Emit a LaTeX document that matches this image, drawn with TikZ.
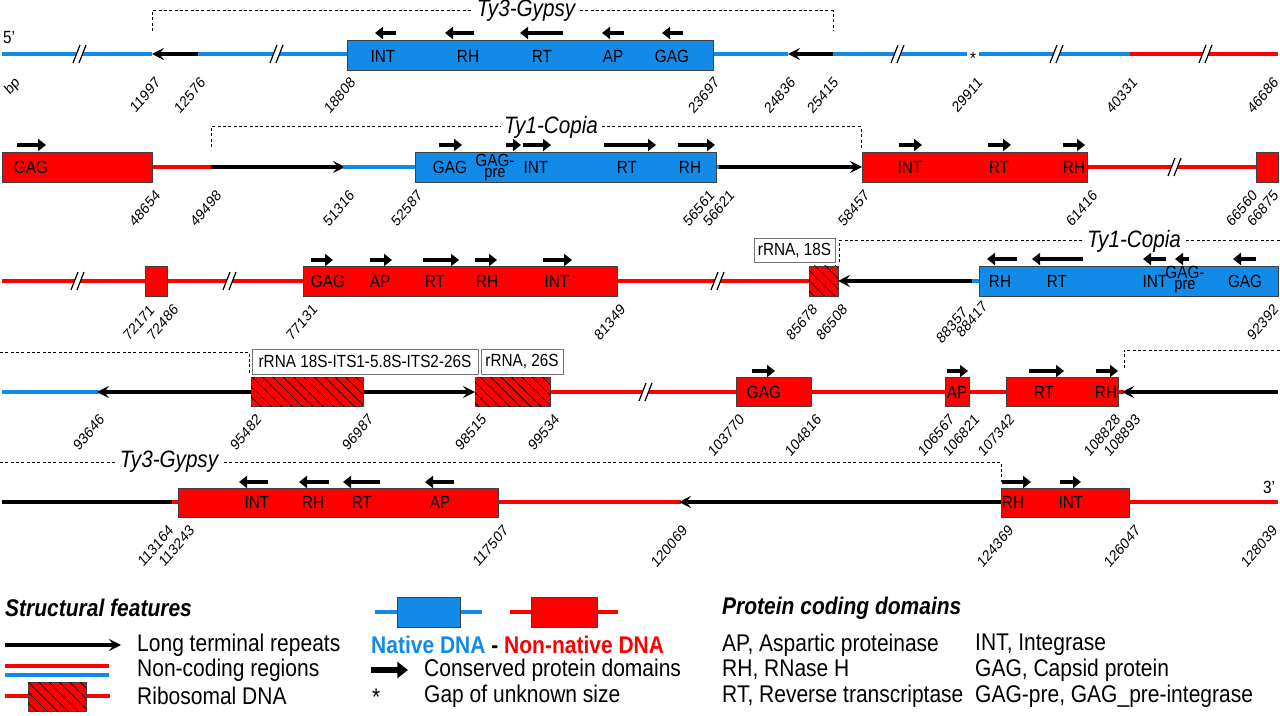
\documentclass[tikz,border=0pt]{standalone}
\usepackage{fontspec}
\setmainfont{Liberation Sans}
\usetikzlibrary{arrows.meta,patterns.meta}
\definecolor{nblue}{RGB}{18,138,232}
\definecolor{nred}{RGB}{255,0,0}
\tikzset{
  bl/.style={nblue,line width=3pt},
  rl/.style={nred,line width=3pt},
  kl/.style={black,line width=3.6pt},
  ltr/.style={black,line width=3.6pt,-{Stealth[length=9pt,width=9pt,inset=3.5pt]}},
  pd/.style={black,line width=3.6pt,-{Triangle[length=6pt,width=9pt]}},
  pdbig/.style={black,line width=5pt,-{Triangle[length=8pt,width=12pt]}},
  bbox/.style={fill=nblue,draw=black!75,line width=0.6pt},
  rbox/.style={fill=nred,draw=black!75,line width=0.6pt},
  hbox/.style={rbox,postaction={pattern={Lines[angle=-45,distance=5.5pt,line width=0.5pt]},pattern color=black}},
  blab/.style={font=\fontsize{13.2}{14}\selectfont,inner sep=0,xscale=0.87},
  plab/.style={font=\fontsize{11.5}{12}\selectfont,xscale=0.87,rotate=45,anchor=east,inner sep=0},
  dsh/.style={black,line width=0.75pt,dash pattern=on 2.2pt off 1.8pt},
  tlab/.style={font=\fontsize{17.8}{19}\selectfont\itshape,fill=white,inner xsep=3pt,inner ysep=1pt,xscale=0.87},
  rframe/.style={draw=black!55,fill=white,line width=0.6pt},
  leg/.style={font=\fontsize{18.1}{19}\selectfont,anchor=west,inner sep=0,xscale=0.87},
}
\newcommand{\brk}[2]{%
  \fill[white] (#1-7,#2+9) -- (#1,#2-9) -- (#1+6,#2-9) -- (#1-1,#2+9) -- cycle;
  \draw[black,line width=0.9pt] (#1-7,#2+9) -- (#1,#2-9);
  \draw[black,line width=0.9pt] (#1-1,#2+9) -- (#1+6,#2-9);}
\newcommand{\pl}[3]{\node[plab] (p#3) at (#1,#2) {#3};}
\newcommand{\bx}[4]{\node[blab] (#1) at (#2,#3) {#4};}
\newcommand{\gp}[3]{%
  \node[blab,anchor=base] (#1a) at (#2,#3-0.5) {GAG-};
  \node[blab,anchor=base,font=\fontsize{12.6}{13}\selectfont] (#1b) at (#2,#3+10.5) {pre};}
\begin{document}
\begin{tikzpicture}[x=0.75pt,y=-0.75pt]
\useasboundingbox (0,0) rectangle (1280,716);

% ================= Row 1 =================
\draw[bl] (2,54) -- (152,54);
\draw[bl] (198,54) -- (347,54);
\draw[ltr] (198,54) -- (152,54);
\draw[bl] (713,54) -- (788,54);
\draw[bl] (833,54) -- (967,54);
\draw[ltr] (833,54) -- (788,54);
\draw[bl] (979,54) -- (1130,54);
\draw[rl] (1130,54) -- (1278,54);
\brk{80}{54}\brk{277}{54}\brk{898}{54}\brk{1057}{54}\brk{1206}{54}
\node[blab] (s1) at (973,58) {*};
\draw[bbox] (347,40) rectangle (713,70);
\bx{a1}{383}{56}{INT}\bx{a2}{468}{56}{RH}\bx{a3}{542}{56}{RT}\bx{a4}{613}{56}{AP}\bx{a5}{672}{56}{GAG}
\draw[pd] (396,33) -- (375,33);
\draw[pd] (474,33) -- (445,33);
\draw[pd] (563,33) -- (520,33);
\draw[pd] (624,33) -- (602,33);
\draw[pd] (683,33) -- (662,33);
\draw[dsh] (152,31) -- (152,11) -- (833,11) -- (833,31);
\node[tlab] (t1) at (526,11) {Ty3-Gypsy};
\node[blab,anchor=west] (five) at (3,38) {5'};
\node[plab] (pbp) at (18,80) {bp};
\pl{158}{80}{11997}\pl{203}{80}{12576}\pl{353}{80}{18808}\pl{717}{80}{23697}
\pl{793}{80}{24836}\pl{836}{80}{25415}\pl{980}{80}{29911}\pl{1135}{80}{40331}\pl{1276}{80}{46686}

% ================= Row 2 =================
\draw[rl] (152,167) -- (211,167);
\draw[ltr] (211,167) -- (345,167);
\draw[bl] (343,167) -- (415,167);
\draw[bl] (716,167) -- (722,167);
\draw[ltr] (719,167) -- (862,167);
\draw[rl] (1087,167) -- (1256,167);
\brk{1175}{167}
\draw[rbox] (2,152) rectangle (152,182);
\bx{b0}{31}{167}{GAG}
\draw[pd] (17,145) -- (46,145);
\draw[bbox] (415,152) rectangle (716,182);
\bx{b1}{450}{167}{GAG}\gp{b2}{495}{167}\bx{b3}{536}{167}{INT}\bx{b4}{627}{167}{RT}\bx{b5}{690}{167}{RH}
\draw[pd] (439,145) -- (462,145);
\draw[pd] (506,145) -- (521,145);
\draw[pd] (523,145) -- (551,145);
\draw[pd] (604,145) -- (656,145);
\draw[pd] (678,145) -- (715,145);
\draw[rbox] (862,152) rectangle (1087,182);
\bx{b6}{910}{167}{INT}\bx{b7}{999}{167}{RT}\bx{b8}{1074}{167}{RH}
\draw[pd] (899,145) -- (922,145);
\draw[pd] (988,145) -- (1011,145);
\draw[pd] (1063,145) -- (1085,145);
\draw[rbox] (1256,152) rectangle (1278,182);
\draw[dsh] (211,147) -- (211,127) -- (861,127) -- (861,149);
\node[tlab] (t2) at (551,127) {Ty1-Copia};
\pl{158}{193}{48654}\pl{219}{193}{49498}\pl{352}{193}{51316}\pl{420}{193}{52587}
\pl{712}{193}{56561}\pl{732}{193}{56621}\pl{867}{193}{58457}\pl{1095}{193}{61416}
\pl{1255}{193}{66560}\pl{1276}{193}{66875}

% ================= Row 3 =================
\draw[rl] (2,281) -- (809,281);
\brk{78}{281}\brk{230}{281}\brk{718}{281}
\draw[rbox] (145,266) rectangle (167,296);
\draw[rbox] (303,266) rectangle (617,296);
\bx{c1}{328}{281}{GAG}\bx{c2}{380}{281}{AP}\bx{c3}{435}{281}{RT}\bx{c4}{487}{281}{RH}\bx{c5}{557}{281}{INT}
\draw[pd] (311,260) -- (333,260);
\draw[pd] (370,260) -- (392,260);
\draw[pd] (423,260) -- (459,260);
\draw[pd] (475,260) -- (497,260);
\draw[pd] (543,260) -- (572,260);
\draw[hbox] (809,266) rectangle (838,296);
\draw[rframe] (754,238) rectangle (835,262);
\node[blab] (r18) at (794.5,250) {rRNA, 18S};
\draw[bl] (968,281) -- (980,281);
\draw[ltr] (972,281) -- (838,281);
\draw[bbox] (979,266) rectangle (1278,296);
\bx{c6}{1000}{281}{RH}\bx{c7}{1057}{281}{RT}\bx{c8}{1155}{281}{INT}\gp{c9}{1185}{279}\bx{c10}{1245}{281}{GAG}
\draw[pd] (1017,259) -- (987,259);
\draw[pd] (1083,259) -- (1032,259);
\draw[pd] (1166,259) -- (1143,259);
\draw[pd] (1189,259) -- (1175,259);
\draw[pd] (1256,259) -- (1233,259);
\draw[dsh] (839,262) -- (839,241) -- (1280,241);
\node[tlab] (t3) at (1134,241) {Ty1-Copia};
\pl{152}{307}{72171}\pl{176}{307}{72486}\pl{315}{307}{77131}\pl{623}{307}{81349}
\pl{815}{307}{85678}\pl{845}{307}{86508}\pl{965}{310}{88357}\pl{985}{304}{88417}\pl{1276}{307}{92392}

% ================= Row 4 =================
\draw[bl] (2,392) -- (99,392);
\draw[rl] (550,392) -- (1124,392);
\brk{646}{392}
\draw[ltr] (251,392) -- (97,392);
\draw[ltr] (363,392) -- (475,392);
\draw[hbox] (251,377) rectangle (363,406);
\draw[hbox] (475,377) rectangle (550,406);
\draw[rframe] (252,349) rectangle (478,374);
\node[blab] (rits) at (365,361.5) {rRNA 18S-ITS1-5.8S-ITS2-26S};
\draw[rframe] (481,349) rectangle (563,374);
\node[blab] (r26) at (522,361.5) {rRNA, 26S};
\draw[rbox] (736,377) rectangle (811,406);
\bx{d1}{764}{392}{GAG}
\draw[pd] (752,371) -- (775,371);
\draw[rbox] (945,377) rectangle (969,406);
\bx{d2}{957}{392}{AP}
\draw[pd] (947,371) -- (968,371);
\draw[rbox] (1006,377) rectangle (1118,406);
\bx{d3}{1044}{392}{RT}\bx{d4}{1106}{392}{RH}
\draw[pd] (1029,371) -- (1064,371);
\draw[pd] (1096,371) -- (1118,371);
\draw[ltr] (1278,392) -- (1122,392);
\draw[dsh] (0,352) -- (249,352) -- (249,374);
\draw[dsh] (1124,368) -- (1124,350) -- (1280,350);
\pl{102}{417}{93646}\pl{259}{417}{95482}\pl{371}{417}{96987}\pl{484}{417}{98515}\pl{557}{417}{99534}
\pl{742}{417}{103770}\pl{819}{417}{104816}\pl{952}{417}{106567}\pl{977}{417}{106821}
\pl{1012}{417}{107342}\pl{1118}{417}{108828}\pl{1138}{417}{108893}

% ================= Row 5 =================
\draw[kl] (2,502) -- (173,502);
\draw[rl] (172,502) -- (178,502);
\draw[rl] (498,502) -- (681,502);
\draw[ltr] (1001,502) -- (679,502);
\draw[rl] (1129,502) -- (1278,502);
\draw[rbox] (178,488) rectangle (498,517);
\bx{e1}{257}{502}{INT}\bx{e2}{313}{502}{RH}\bx{e3}{362}{502}{RT}\bx{e4}{440}{502}{AP}
\draw[pd] (268,482) -- (239,482);
\draw[pd] (329,482) -- (299,482);
\draw[pd] (380,482) -- (343,482);
\draw[pd] (454,482) -- (425,482);
\draw[rbox] (1001,488) rectangle (1129,517);
\bx{e5}{1013}{502}{RH}\bx{e6}{1071}{502}{INT}
\draw[pd] (1002,482) -- (1031,482);
\draw[pd] (1060,482) -- (1081,482);
\node[blab] (three) at (1269,487) {3'};
\draw[dsh] (0,462) -- (1001,462) -- (1001,482);
\node[tlab] (t5) at (169,462) {Ty3-Gypsy};
\pl{171}{528}{113164}\pl{192}{528}{113243}\pl{506}{528}{117507}\pl{685}{528}{120069}
\pl{1011}{528}{124369}\pl{1138}{528}{126047}\pl{1275}{528}{128039}

% ================= Legend =================
\node[leg] (h1) at (5,608) {\bfseries\itshape Structural features};
\node[leg] (h2) at (722,608) {\bfseries\itshape Protein coding domains};
\draw[bl] (375,612) -- (482,612);
\draw[bbox] (397,597) rectangle (460,627);
\draw[rl] (510,612) -- (618,612);
\draw[rbox] (531,597) rectangle (597,627);
\draw[ltr] (5,645) -- (121,645);
\node[leg] (l1) at (137,645) {Long terminal repeats};
\node[leg] (l2) at (371,645) {\bfseries\textcolor{nblue}{Native DNA} - \textcolor{nred}{Non-native DNA}};
\node[leg] (l3) at (722,645) {AP, Aspartic proteinase};
\node[leg] (l4) at (975,645) {INT, Integrase};
\draw[rl] (5,666) -- (109,666);
\draw[bl] (5,675) -- (109,675);
\node[leg] (l5) at (137,670) {Non-coding regions};
\draw[pdbig] (371,670) -- (408,670);
\node[leg] (l6) at (424,670) {Conserved protein domains};
\node[leg] (l7) at (722,670) {RH, RNase H};
\node[leg] (l8) at (975,670) {GAG, Capsid protein};
\draw[rl] (5,696) -- (110,696);
\draw[hbox] (28,682) rectangle (86,711);
\node[leg] (l9) at (137,696) {Ribosomal DNA};
\node[leg] (l10) at (372,697) {*};
\node[leg] (l11) at (424,696) {Gap of unknown size};
\node[leg] (l12) at (722,696) {RT, Reverse transcriptase};
\node[leg] (l13) at (975,696) {GAG-pre, GAG\_pre-integrase};
\end{tikzpicture}
\end{document}
